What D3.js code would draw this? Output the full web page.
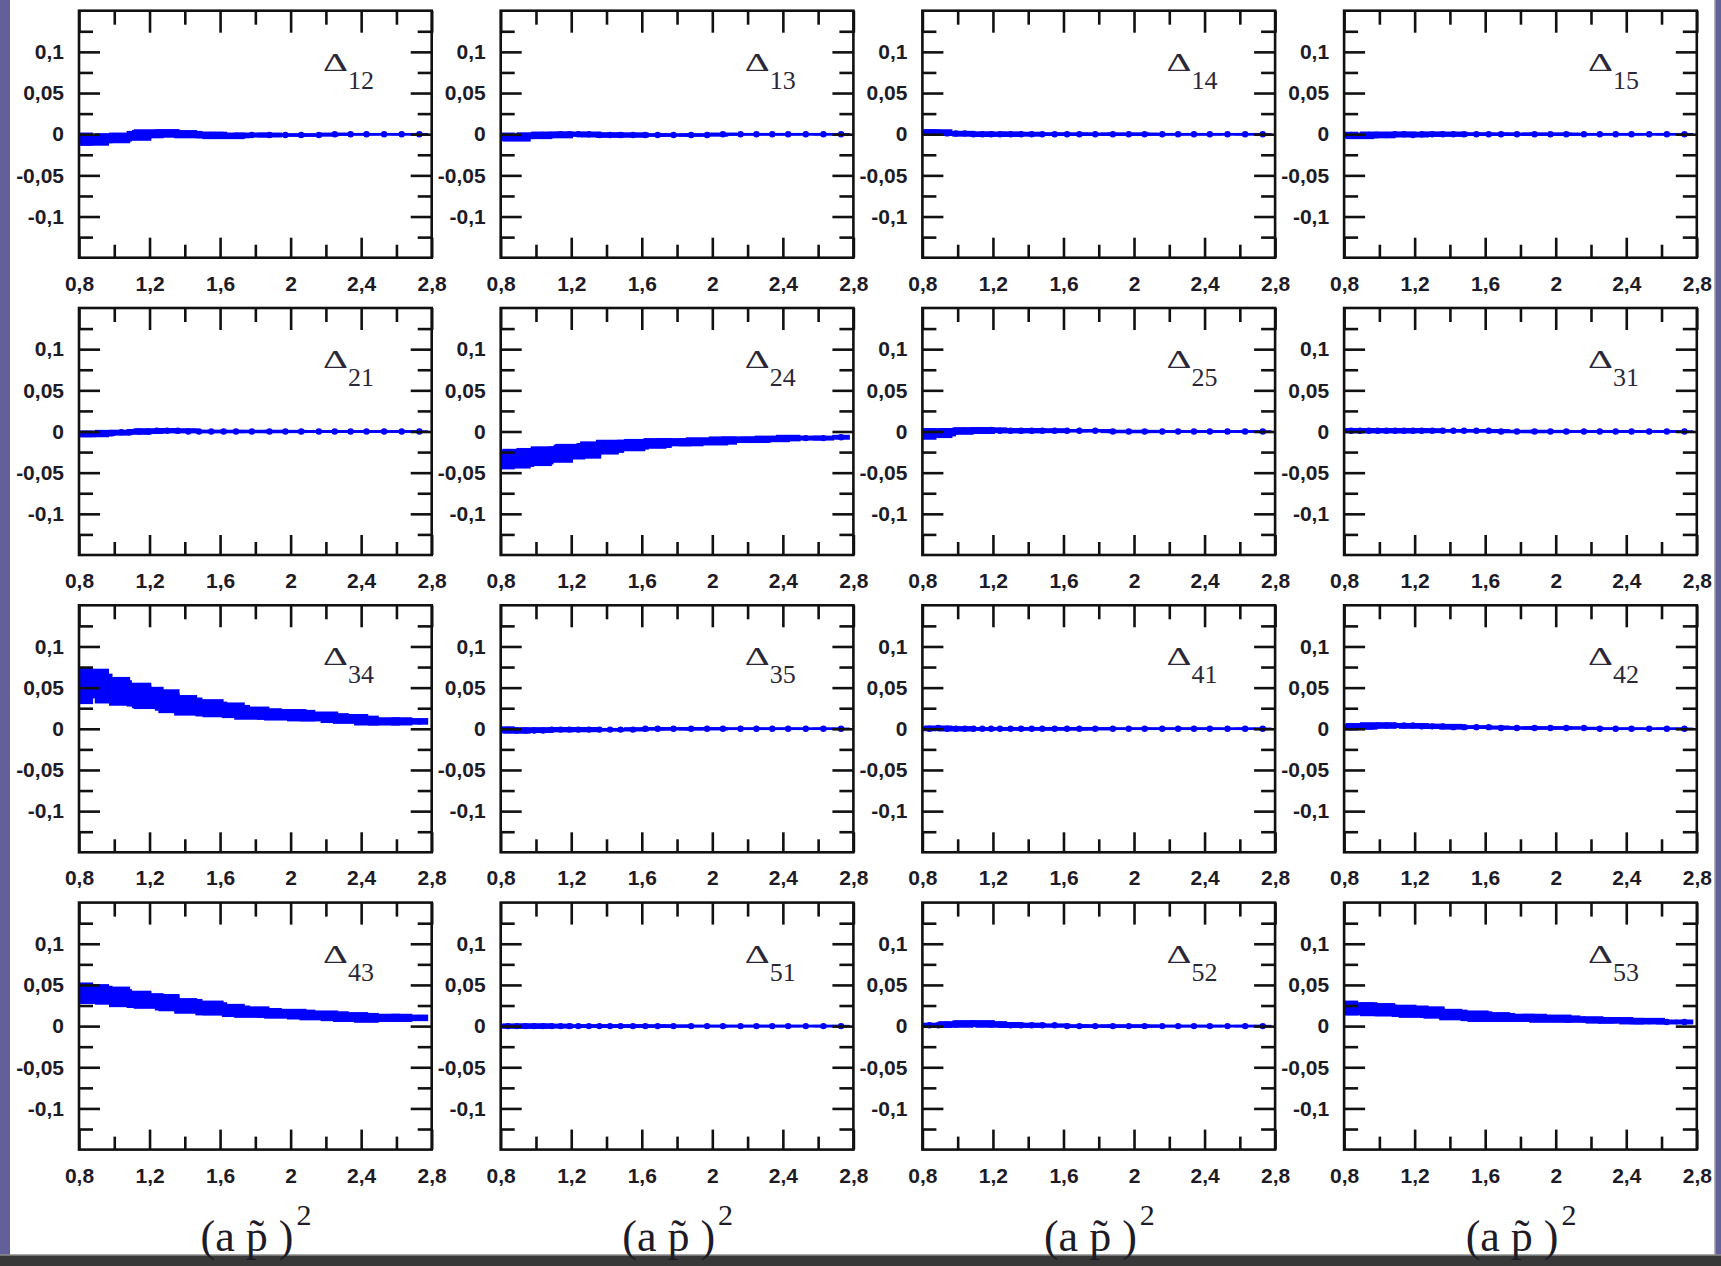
<!DOCTYPE html>
<html>
<head>
<meta charset="utf-8">
<script src="https://cdn.jsdelivr.net/npm/d3@7"></script>
<style>
  html, body { margin: 0; padding: 0; background: #625f99; }
  svg { display: block; }
</style>
</head>
<body>
<svg id="chart" width="1721" height="1266"></svg>
<script>
// Momentum points (a p~)^2 shared by every channel, with their horizontal uncertainty
const momenta     = [0.84,0.89,0.94,0.99,1.04,1.09,1.14,1.19,1.24,1.30,1.36,1.42,1.48,1.55,1.62,1.69,1.78,1.88,1.97,2.06,2.16,2.25,2.34,2.43,2.53,2.63,2.73];
const momentumErr = [0.04,0.08,0.05,0.10,0.06,0.12,0.07,0.09,0.13,0.07,0.11,0.08,0.14,0.09,0.12,0.08,0.10,0.07,0.12,0.08,0.11,0.08,0.10,0.07,0.09,0.06,0.05];

// Deviation Delta_ij for each channel (value and error)
const d12 = [-0.006,-0.007,-0.005,-0.005,-0.004,-0.003,-0.001,0,0.001,0.001,0.001,0,-0.001,-0.001,-0.002,-0.002,-0.001,-0.001,-0.001,-0.001,-0.001,0,0,0,0,0,0];
const e12 = [0.008,0.007,0.006,0.006,0.005,0.005,0.005,0.005,0.005,0.005,0.004,0.004,0.004,0.004,0.004,0.003,0.003,0.003,0.002,0.002,0.002,0.002,0.0015,0.0015,0.0015,0.0015,0.0015];
const d13 = [-0.003,-0.004,-0.002,-0.002,-0.001,-0.001,0,0,0,0,-0.001,-0.001,-0.001,-0.001,-0.001,-0.001,-0.001,-0.001,-0.001,0,0,0,0,0,0,0,0];
const e13 = [0.005,0.005,0.004,0.004,0.004,0.004,0.003,0.003,0.003,0.003,0.003,0.003,0.003,0.003,0.002,0.002,0.002,0.002,0.002,0.002,0.0015,0.0015,0.0015,0.0015,0.0015,0.0015,0.0015];
const d14 = [0.002,0.002,0.001,0.001,0.001,0,0,0,0,0,0,0,0,0,0,0,0,0,0,0,0,0,0,0,0,0,0];
const e14 = [0.004,0.004,0.003,0.003,0.003,0.003,0.003,0.003,0.003,0.003,0.003,0.002,0.002,0.002,0.002,0.002,0.002,0.002,0.002,0.002,0.0015,0.0015,0.0015,0.0015,0.0015,0.0015,0.0015];
const d15 = [-0.001,-0.002,-0.001,-0.001,-0.001,0,0,-0.001,0,0,0,0,0,0,0,0,0,0,0,0,0,0,0,0,0,0,0];
const e15 = [0.004,0.004,0.004,0.004,0.003,0.003,0.003,0.003,0.003,0.003,0.003,0.003,0.002,0.002,0.002,0.002,0.002,0.002,0.002,0.002,0.0015,0.0015,0.0015,0.0015,0.0015,0.0015,0.0015];
const d21 = [-0.003,-0.003,-0.002,-0.002,-0.001,-0.001,0,0,0.001,0.001,0.001,0,0,0,0,0,0,0,0,0,0,0,0,0,0,0,0];
const e21 = [0.004,0.004,0.004,0.003,0.003,0.003,0.003,0.003,0.003,0.003,0.003,0.002,0.002,0.002,0.002,0.002,0.002,0.002,0.002,0.0015,0.0015,0.0015,0.0015,0.0015,0.0015,0.0015,0.0015];
const d24 = [-0.034,-0.033,-0.032,-0.031,-0.030,-0.028,-0.027,-0.025,-0.024,-0.022,-0.020,-0.019,-0.017,-0.016,-0.015,-0.014,-0.013,-0.013,-0.012,-0.011,-0.010,-0.010,-0.009,-0.008,-0.008,-0.008,-0.007];
const e24 = [0.012,0.012,0.011,0.011,0.010,0.010,0.009,0.009,0.009,0.008,0.008,0.007,0.007,0.006,0.006,0.006,0.005,0.005,0.005,0.005,0.004,0.004,0.004,0.004,0.003,0.003,0.003];
const d25 = [-0.003,-0.002,-0.001,0,0.001,0.001,0.001,0.002,0.001,0.001,0.001,0.001,0.001,0.001,0.001,0.001,0.001,0,0,0,0,0,0,0,0,0,0];
const e25 = [0.007,0.006,0.005,0.004,0.004,0.004,0.004,0.003,0.003,0.003,0.003,0.003,0.003,0.002,0.002,0.002,0.002,0.002,0.002,0.002,0.0015,0.0015,0.0015,0.0015,0.0015,0.0015,0.0015];
const d31 = [0.001,0.001,0.001,0.001,0.001,0.001,0.001,0.001,0.001,0.001,0.001,0.001,0.001,0.001,0.001,0,0,0,0,0,0,0,0,0,0,0,0];
const e31 = [0.003,0.003,0.003,0.003,0.003,0.003,0.003,0.003,0.003,0.002,0.002,0.002,0.002,0.002,0.002,0.002,0.002,0.002,0.002,0.0015,0.0015,0.0015,0.0015,0.0015,0.0015,0.0015,0.0015];
const d34 = [0.052,0.055,0.049,0.047,0.044,0.042,0.040,0.038,0.036,0.033,0.030,0.028,0.026,0.024,0.023,0.021,0.019,0.018,0.017,0.016,0.015,0.013,0.012,0.010,0.009,0.009,0.009];
const e34 = [0.022,0.018,0.018,0.016,0.015,0.014,0.013,0.013,0.012,0.011,0.011,0.010,0.010,0.009,0.009,0.008,0.008,0.007,0.007,0.007,0.006,0.006,0.006,0.006,0.005,0.005,0.004];
const d35 = [-0.001,-0.002,-0.002,-0.002,-0.002,-0.001,-0.001,-0.001,-0.001,-0.001,-0.001,-0.001,-0.001,-0.001,0,0,0,0,0,0,0,0,0,0,0,0,0];
const e35 = [0.004,0.004,0.003,0.003,0.003,0.003,0.003,0.003,0.003,0.003,0.002,0.002,0.002,0.002,0.002,0.002,0.002,0.002,0.002,0.0015,0.0015,0.0015,0.0015,0.0015,0.0015,0.0015,0.0015];
const d41 = [0,0.001,0,0,0,0,0,0,0,0,0,0,0,0,0,0,0,0,0,0,0,0,0,0,0,0,0];
const e41 = [0.003,0.003,0.003,0.003,0.003,0.002,0.002,0.002,0.002,0.002,0.002,0.002,0.002,0.002,0.002,0.002,0.002,0.0015,0.0015,0.0015,0.0015,0.0015,0.0015,0.0015,0.0015,0.0015,0.0015];
const d42 = [0.002,0.003,0.003,0.004,0.004,0.004,0.004,0.004,0.003,0.003,0.003,0.002,0.002,0.002,0.002,0.001,0.001,0.001,0.001,0.001,0.001,0,0,0,0,0,0];
const e42 = [0.004,0.004,0.004,0.004,0.003,0.003,0.003,0.003,0.003,0.003,0.003,0.003,0.002,0.002,0.002,0.002,0.002,0.002,0.002,0.002,0.0015,0.0015,0.0015,0.0015,0.0015,0.0015,0.0015];
const d43 = [0.040,0.039,0.038,0.037,0.035,0.033,0.032,0.031,0.030,0.028,0.026,0.025,0.023,0.021,0.020,0.018,0.017,0.016,0.015,0.014,0.013,0.012,0.011,0.010,0.010,0.010,0.010];
const e43 = [0.013,0.012,0.011,0.011,0.010,0.010,0.010,0.009,0.009,0.009,0.008,0.008,0.008,0.008,0.007,0.007,0.007,0.006,0.006,0.006,0.006,0.006,0.006,0.006,0.005,0.005,0.004];
const d51 = [0,0,0,0,0,0,0,0,0,0,0,0,0,0,0,0,0,0,0,0,0,0,0,0,0,0,0];
const e51 = [0.003,0.003,0.003,0.003,0.003,0.003,0.002,0.002,0.002,0.002,0.002,0.002,0.002,0.002,0.002,0.002,0.002,0.0015,0.0015,0.0015,0.0015,0.0015,0.0015,0.0015,0.0015,0.0015,0.0015];
const d52 = [0.001,0.001,0.002,0.002,0.003,0.003,0.003,0.002,0.002,0.001,0.001,0.001,0.001,0.001,0,0,0,0,0,0,0,0,0,0,0,0,0];
const e52 = [0.003,0.003,0.003,0.004,0.004,0.004,0.004,0.004,0.003,0.003,0.003,0.003,0.002,0.002,0.002,0.002,0.002,0.002,0.002,0.002,0.0015,0.0015,0.0015,0.0015,0.0015,0.0015,0.0015];
const d53 = [0.022,0.021,0.021,0.020,0.019,0.019,0.018,0.018,0.017,0.016,0.015,0.014,0.013,0.012,0.011,0.011,0.010,0.010,0.009,0.009,0.008,0.007,0.007,0.006,0.006,0.005,0.005];
const e53 = [0.009,0.008,0.008,0.008,0.007,0.007,0.007,0.007,0.007,0.006,0.006,0.006,0.006,0.006,0.006,0.005,0.005,0.005,0.005,0.004,0.004,0.004,0.004,0.004,0.004,0.003,0.003];

// Channel order, row by row
const channels = ["12","13","14","15","21","24","25","31","34","35","41","42","43","51","52","53"];
const values = [d12,d13,d14,d15,d21,d24,d25,d31,d34,d35,d41,d42,d43,d51,d52,d53];
const errors = [e12,e13,e14,e15,e21,e24,e25,e31,e34,e35,e41,e42,e43,e51,e52,e53];

// Axis ticks
const xDomain = [0.8, 2.8];
const yDomain = [-0.15, 0.15];
const xTickMajor = [0.8, 1.2, 1.6, 2, 2.4, 2.8];
const xTickMinor = [1.0, 1.4, 1.8, 2.2, 2.6];
const yTickMajor = [-0.1, -0.05, 0, 0.05, 0.1];
const yTickMinor = [-0.125, -0.075, -0.025, 0.025, 0.075, 0.125];
const xTitle = ["(a p\u0303 )", "2"];

// Layout
const W = 1721, H = 1266;
const PW = 352.7, PH = 247;
const X0 = 79, Y0 = 10.7, DX = 421.7, DY = 297.3;
const BLUE = "#0000ff";
const INK = "#1d1b26";
const SERIF = "'Liberation Serif', 'Times New Roman', serif";

const svg = d3.select("#chart");

// page: purple frame, white sheet, dark bottom bar
svg.append("rect").attr("width", W).attr("height", H).attr("fill", "#625f99");
svg.append("rect").attr("x", 10).attr("y", 0).attr("width", 1705).attr("height", 1255).attr("fill", "#ffffff");
svg.append("line").attr("x1", 1715).attr("x2", 1715).attr("y1", 0).attr("y2", 1255)
  .attr("stroke", "#9b9b9b").attr("stroke-width", 1.5);
svg.append("rect").attr("x", 0).attr("y", 1255).attr("width", W).attr("height", 11).attr("fill", "#383838");
svg.append("line").attr("x1", 0).attr("x2", W).attr("y1", 1255).attr("y2", 1255)
  .attr("stroke", "#8d8d8d").attr("stroke-width", 1.5);

const x = d3.scaleLinear().domain(xDomain).range([0, PW]);
const y = d3.scaleLinear().domain(yDomain).range([PH, 0]);
const fmt = v => String(+v.toFixed(3)).replace(".", ",");

const line = d3.line().x(d => x(d.x)).y(d => y(d.y));

channels.forEach((ch, i) => {
  const r = Math.floor(i / 4), c = i % 4;
  const left = X0 + c * DX, top = Y0 + r * DY;
  const g = svg.append("g").attr("transform", `translate(${left},${top})`);

  const clipId = "clip" + ch;
  g.append("clipPath").attr("id", clipId)
    .append("rect").attr("width", PW).attr("height", PH);

  const pts = momenta.map((m, k) => ({ x: m, xe: momentumErr[k], y: values[i][k], e: errors[i][k] }));
  const gd = g.append("g").attr("clip-path", `url(#${clipId})`);

  // error boxes
  gd.selectAll("rect.box").data(pts).join("rect")
    .attr("class", "box")
    .attr("x", d => x(d.x - d.xe))
    .attr("width", d => x(d.x + d.xe) - x(d.x - d.xe))
    .attr("y", d => y(d.y + d.e))
    .attr("height", d => Math.max(1, y(d.y - d.e) - y(d.y + d.e)))
    .attr("fill", BLUE);

  // connecting line and points
  gd.append("path").datum(pts).attr("d", line)
    .attr("fill", "none").attr("stroke", BLUE).attr("stroke-width", 2.5);
  gd.selectAll("circle").data(pts).join("circle")
    .attr("cx", d => x(d.x)).attr("cy", d => y(d.y)).attr("r", 3.2)
    .attr("fill", BLUE);

  // axes: ticks point inward on all four sides
  const addAxis = (gen, tx, ty) => {
    const a = g.append("g").attr("transform", `translate(${tx},${ty})`).call(gen);
    a.select(".domain").remove();
    a.selectAll(".tick line").attr("stroke", "#111").attr("stroke-width", 2.6);
    a.selectAll(".tick text")
      .attr("fill", INK)
      .style("font-family", "'Liberation Sans', Arial, sans-serif")
      .style("font-weight", "bold")
      .style("font-size", "21px");
    return a;
  };
  addAxis(d3.axisLeft(y).tickValues(yTickMajor).tickSize(-21).tickPadding(15).tickFormat(fmt), 0, 0);
  addAxis(d3.axisLeft(y).tickValues(yTickMinor).tickSize(-14).tickFormat(""), 0, 0);
  addAxis(d3.axisRight(y).tickValues(yTickMajor).tickSize(-21).tickFormat(""), PW, 0);
  addAxis(d3.axisRight(y).tickValues(yTickMinor).tickSize(-14).tickFormat(""), PW, 0);
  addAxis(d3.axisTop(x).tickValues(xTickMajor).tickSize(-22).tickFormat(""), 0, 0);
  addAxis(d3.axisTop(x).tickValues(xTickMinor).tickSize(-14).tickFormat(""), 0, 0);
  addAxis(d3.axisBottom(x).tickValues(xTickMajor).tickSize(-20).tickPadding(18).tickFormat(fmt), 0, PH);
  addAxis(d3.axisBottom(x).tickValues(xTickMinor).tickSize(-13).tickFormat(""), 0, PH);

  // frame
  g.append("rect").attr("width", PW).attr("height", PH)
    .attr("fill", "none").attr("stroke", "#111").attr("stroke-width", 2.6);

  // channel label Delta_ij
  g.append("text")
    .attr("transform", `translate(244,60) scale(1.55,1)`)
    .style("font-family", SERIF)
    .style("font-size", "25px")
    .attr("fill", "#2a2838")
    .text("\u0394");
  g.append("text")
    .attr("x", 269).attr("y", 78)
    .style("font-family", SERIF)
    .style("font-size", "26px")
    .attr("fill", "#2a2838")
    .text(ch);
});

// x-axis titles under each column: (a p~)^2 with a raised exponent
for (let c = 0; c < 4; c++) {
  const t = svg.append("text")
    .attr("x", X0 + c * DX + 177).attr("y", 1251)
    .attr("text-anchor", "middle")
    .style("font-family", SERIF)
    .style("font-size", "44px")
    .attr("fill", "#1d1b26");
  t.append("tspan").text(xTitle[0]);
  t.append("tspan").attr("dx", 3).attr("dy", -26).style("font-size", "30px").text(xTitle[1]);
}
</script>
</body>
</html>
